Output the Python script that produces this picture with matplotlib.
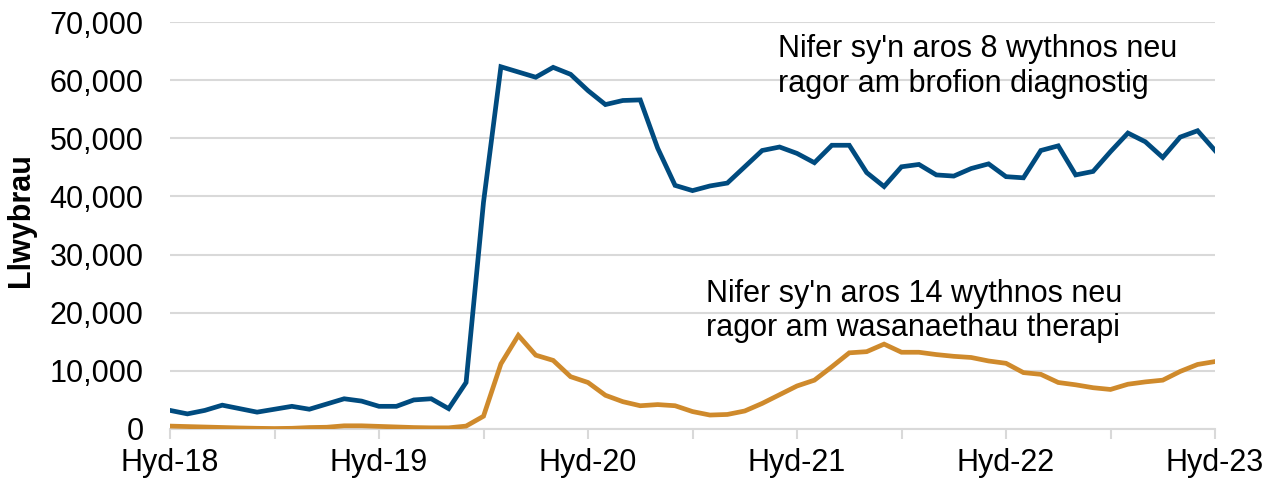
import numpy as np
import matplotlib
matplotlib.use('Agg')
import matplotlib.pyplot as plt

plt.rcParams['font.family'] = ['Liberation Sans', 'DejaVu Sans']

# monthly values, Hyd-18 .. Hyd-23
diagnostig = [3200, 2600, 3200, 4100, 3500, 2900, 3400, 3900, 3400, 4300,
              5200, 4800, 3900, 3900, 5000, 5200, 3500, 8000, 39000, 62300,
              61400, 60500, 62200, 61000, 58200, 55800, 56500, 56600, 48300, 41900,
              41000, 41800, 42300, 45100, 47900, 48500, 47400, 45800, 48800, 48800,
              44100, 41700, 45100, 45500, 43700, 43500, 44800, 45600, 43400, 43200,
              47900, 48700, 43700, 44300, 47700, 50900, 49400, 46700, 50200, 51300,
              47900]
therapi = [500, 420, 340, 260, 180, 120, 80, 120, 250, 300,
           550, 550, 450, 350, 250, 200, 200, 500, 2200, 11200,
           16100, 12700, 11800, 9000, 8000, 5800, 4700, 4000, 4200, 4000,
           3000, 2400, 2500, 3100, 4400, 5900, 7400, 8400, 10700, 13100,
           13300, 14600, 13200, 13200, 12800, 12500, 12300, 11700, 11300, 9700,
           9400, 8000, 7600, 7100, 6800, 7700, 8100, 8400, 9900, 11100,
           11600]
tick_labels = ['Hyd-18', 'Hyd-19', 'Hyd-20', 'Hyd-21', 'Hyd-22', 'Hyd-23']
label_diag = "Nifer sy'n aros 8 wythnos neu\nragor am brofion diagnostig"
label_ther = "Nifer sy'n aros 14 wythnos neu\nragor am wasanaethau therapi"

x = np.arange(len(diagnostig))

fig = plt.figure(figsize=(12.75, 4.83), dpi=100)
ax = fig.add_axes([170 / 1275, 54 / 483, (1215 - 170) / 1275, (429 - 22) / 483])

ax.plot(x, diagnostig, color='#004b7f', lw=3.4, solid_joinstyle='miter', zorder=3)
ax.plot(x, therapi, color='#cf8a2c', lw=3.4, solid_joinstyle='miter', zorder=3)

ax.set_xlim(0, len(x) - 1)
ax.set_ylim(0, 70000)
ax.set_yticks(np.arange(0, 70001, 10000))
ax.yaxis.set_major_formatter(matplotlib.ticker.FuncFormatter(lambda v, p: '{:,.0f}'.format(v)))
ax.yaxis.grid(True, color='#d9d9d9', lw=1.5)
ax.set_axisbelow(True)

ax.set_xticks(np.arange(0, len(x), 12))
ax.set_xticklabels(tick_labels)
ax.set_xticks(np.arange(0, len(x), 6), minor=True)

for s in ['top', 'right', 'left']:
    ax.spines[s].set_visible(False)
ax.spines['bottom'].set_color('#d9d9d9')
ax.spines['bottom'].set_linewidth(1.5)

ax.tick_params(axis='y', length=0, pad=19, labelsize=22)
ax.tick_params(axis='x', which='both', length=7, width=1.5, color='#d9d9d9',
               pad=7, labelsize=22)
ax.tick_params(axis='x', which='minor', labelbottom=False)

ax.set_ylabel('Llwybrau', fontsize=22, fontweight='bold')
ax.yaxis.set_label_coords(-134 / 1045, 0.513)

ax.text(34.9, 62300, label_diag, fontsize=22, va='center', ha='left',
        linespacing=1.2)
ax.text(30.8, 20300, label_ther, fontsize=22, va='center', ha='left',
        linespacing=1.2)

fig.savefig('out.png', dpi=100)
